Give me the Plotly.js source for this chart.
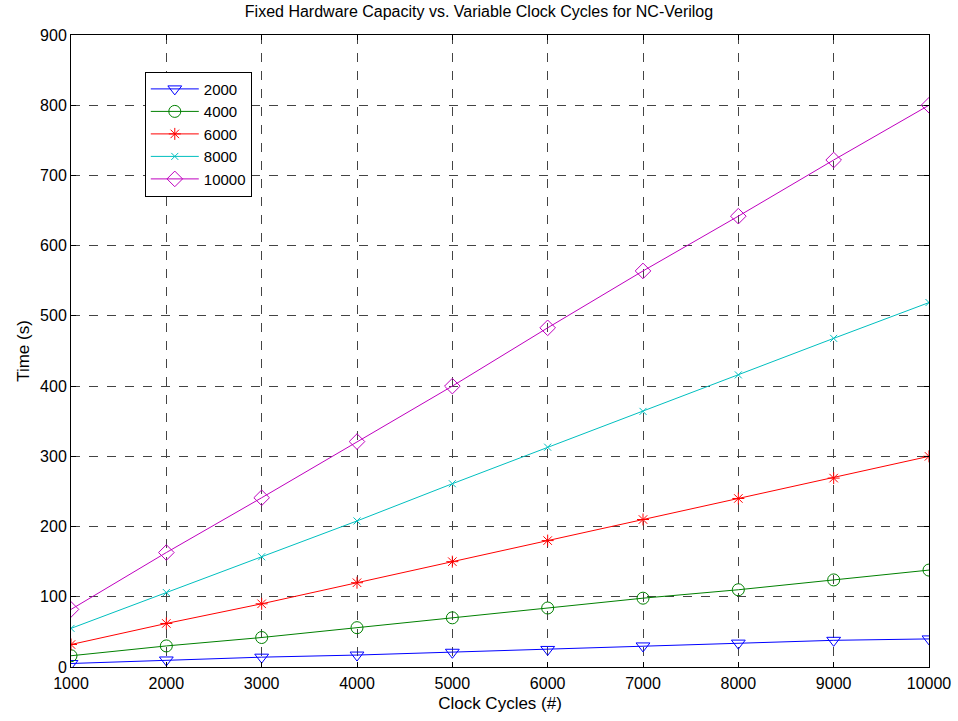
<!DOCTYPE html>
<html>
<head>
<meta charset="utf-8">
<script src="https://cdn.plot.ly/plotly-3.0.1.min.js"></script>
<style>html,body{margin:0;padding:0;background:#fff;}#chart{width:958px;height:721px;}</style>
</head>
<body>
<div id="chart"></div>
<script>
const clockCycles = [1000, 2000, 3000, 4000, 5000, 6000, 7000, 8000, 9000, 10000];
const seriesNames = ["2000", "4000", "6000", "8000", "10000"];
const time2000  = [5, 10, 14, 17, 21, 25, 30, 34, 38, 40];
const time4000  = [16, 30, 42, 56, 70, 84, 98, 110, 124, 138];
const time6000  = [32, 62, 90, 120, 150, 180, 210, 240, 269, 300];
const time8000  = [55, 106, 157, 208, 261, 313, 364, 416, 468, 519];
const time10000 = [82, 163, 241, 321, 400, 483, 564, 642, 722, 800];
const xTicks = [1000, 2000, 3000, 4000, 5000, 6000, 7000, 8000, 9000, 10000];
const yTicks = [0, 100, 200, 300, 400, 500, 600, 700, 800, 900];

const allY = [time2000, time4000, time6000, time8000, time10000];
const colors = ["#0000ff", "#008000", "#ff0000", "#00bfbf", "#bf00bf"];
const symbols = ["triangle-down-open", "circle-open", "asterisk-open", "x-thin-open", "diamond-open"];
const sizes = [12, 12, 10, 7, 12];

const traces = allY.map((ys, i) => ({
  x: clockCycles, y: ys, name: seriesNames[i], type: "scatter", mode: "lines+markers",
  line: {color: colors[i], width: 1},
  marker: {symbol: symbols[i], size: sizes[i], color: colors[i], line: {color: colors[i], width: 1}}
}));

const font = {family: "Liberation Sans, Arial, Helvetica, sans-serif", color: "#000"};
const layout = {
  width: 958, height: 721,
  margin: {l: 71, r: 29, t: 35, b: 54},
  paper_bgcolor: "#fff", plot_bgcolor: "#fff",
  font: Object.assign({size: 16}, font),
  title: {text: "Fixed Hardware Capacity vs. Variable Clock Cycles for NC-Verilog", font: Object.assign({size: 16}, font), x: 0.5, xanchor: "center", y: 0.992, yanchor: "top"},
  showlegend: true,
  legend: {x: 0.086, y: 0.942, xanchor: "left", yanchor: "top", bgcolor: "#fff", bordercolor: "#000", borderwidth: 1, font: Object.assign({size: 15}, font), itemwidth: 48, tracegroupgap: 0},
  xaxis: {
    range: [1000, 10000], tickvals: xTicks, ticktext: xTicks.map(String),
    showline: true, linecolor: "#000", linewidth: 1, mirror: "ticks",
    ticks: "inside", ticklen: 5, tickcolor: "#000",
    showgrid: true, gridcolor: "#444", griddash: "dash", gridwidth: 1,
    zeroline: false, tickfont: Object.assign({size: 16}, font), ticklabelstandoff: 2,
    title: {text: "Clock Cycles (#)", font: Object.assign({size: 17}, font), standoff: 5}
  },
  yaxis: {
    range: [0, 900], tickvals: yTicks, ticktext: yTicks.map(String),
    showline: true, linecolor: "#000", linewidth: 1, mirror: "ticks",
    ticks: "inside", ticklen: 5, tickcolor: "#000",
    showgrid: true, gridcolor: "#444", griddash: "dash", gridwidth: 1,
    zeroline: false, tickfont: Object.assign({size: 16}, font),
    title: {text: "Time (s)", font: Object.assign({size: 17}, font), standoff: 6}
  }
};
Plotly.newPlot("chart", traces, layout, {displayModeBar: false, staticPlot: true});
</script>
</body>
</html>
